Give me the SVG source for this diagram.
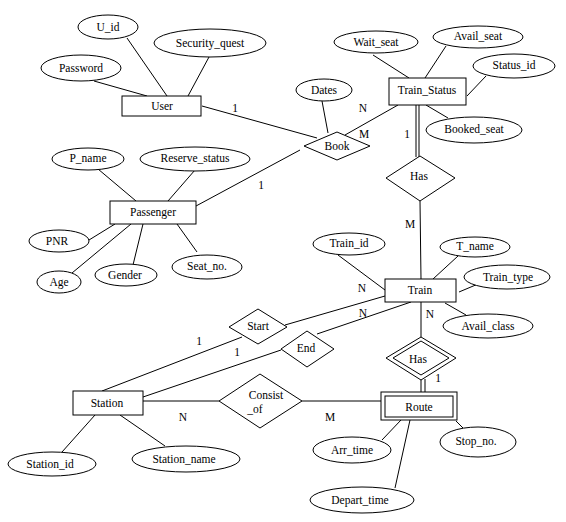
<svg xmlns="http://www.w3.org/2000/svg" width="566" height="522" viewBox="0 0 566 522">
<style>
text{font-family:"Liberation Serif","Times New Roman",serif;font-size:11.5px;fill:#000;text-anchor:middle;dominant-baseline:central}
.s{fill:#fff;stroke:#000;stroke-width:1}
.c line,.c polyline{stroke:#000;stroke-width:1;fill:none}
.lb{text-anchor:middle}
</style>
<rect width="566" height="522" fill="#fff"/>
<g class="c" id="connectors">
<line x1="94" y1="81" x2="147" y2="96"/>
<line x1="127" y1="38" x2="167" y2="96"/>
<line x1="209" y1="57" x2="188" y2="96"/>
<line x1="202" y1="106" x2="317" y2="138"/>
<line x1="322" y1="101" x2="328" y2="133"/>
<line x1="345" y1="135" x2="398" y2="105"/>
<line x1="300" y1="150" x2="196" y2="206"/>
<line x1="373" y1="55" x2="409" y2="78"/>
<line x1="446" y1="46" x2="425" y2="78"/>
<line x1="486" y1="76" x2="467" y2="96"/>
<line x1="426" y1="105" x2="448" y2="118"/>
<line x1="416" y1="105" x2="416" y2="157"/>
<line x1="419" y1="105" x2="419" y2="157"/>
<line x1="420" y1="201" x2="421" y2="279"/>
<line x1="338" y1="255" x2="385" y2="290"/>
<line x1="458" y1="256" x2="433" y2="279"/>
<line x1="478" y1="284" x2="459" y2="292"/>
<line x1="445" y1="303" x2="466" y2="315"/>
<line x1="285" y1="325" x2="385" y2="296"/>
<line x1="242" y1="337" x2="102" y2="391"/>
<line x1="317" y1="334" x2="411" y2="302"/>
<line x1="281" y1="350" x2="143" y2="397"/>
<line x1="143" y1="401" x2="219" y2="401"/>
<line x1="302" y1="401" x2="381" y2="401"/>
<line x1="421" y1="302" x2="421" y2="337"/>
<line x1="421" y1="380" x2="421" y2="392"/>
<line x1="425" y1="379" x2="425" y2="392"/>
<line x1="382" y1="440" x2="401" y2="420"/>
<line x1="463" y1="428" x2="456" y2="421"/>
<line x1="395" y1="488" x2="410" y2="420"/>
<line x1="62" y1="452" x2="95" y2="415"/>
<line x1="165" y1="446" x2="120" y2="415"/>
<line x1="98" y1="169" x2="136" y2="201"/>
<line x1="195" y1="170" x2="168" y2="201"/>
<line x1="89" y1="240" x2="115" y2="224"/>
<line x1="72" y1="273" x2="131" y2="224"/>
<line x1="133" y1="265" x2="143" y2="224"/>
<line x1="197" y1="252" x2="177" y2="224"/>
</g>
<g id="labels">
<text x="235" y="108">1</text>
<text x="363" y="108">N</text>
<text x="364" y="134">M</text>
<text x="261" y="185">1</text>
<text x="407" y="134">1</text>
<text x="410" y="224">M</text>
<text x="362" y="288">N</text>
<text x="363" y="313">N</text>
<text x="430" y="314">N</text>
<text x="199" y="341">1</text>
<text x="237" y="352">1</text>
<text x="183" y="417">N</text>
<text x="330" y="417">M</text>
<text x="438" y="378">1</text>
</g>
<g id="User"><rect class="s" x="122" y="96" width="79" height="20"/><text x="162" y="106">User</text></g>
<g id="U_id"><ellipse class="s" cx="108" cy="27" rx="30" ry="12"/><text x="108" y="27">U_id</text></g>
<g id="Security_quest"><ellipse class="s" cx="210" cy="43" rx="56" ry="14"/><text x="210" y="43">Security_quest</text></g>
<g id="Password"><ellipse class="s" cx="81" cy="68" rx="40" ry="13"/><text x="81" y="68">Password</text></g>
<g id="Book"><polygon class="s" points="304,146 337,132 370,146 337,160"/><text x="337" y="146">Book</text></g>
<g id="Dates"><ellipse class="s" cx="324" cy="90" rx="28" ry="11"/><text x="324" y="90">Dates</text></g>
<g id="Train_Status"><rect class="s" x="389" y="78" width="77" height="27"/><text x="427" y="90">Train_Status</text></g>
<g id="Wait_seat"><ellipse class="s" cx="376" cy="42" rx="42" ry="11"/><text x="376" y="42">Wait_seat</text></g>
<g id="Avail_seat"><ellipse class="s" cx="478" cy="37" rx="45" ry="11"/><text x="478" y="36">Avail_seat</text></g>
<g id="Status_id"><ellipse class="s" cx="514" cy="66" rx="41" ry="12"/><text x="514" y="65">Status_id</text></g>
<g id="Booked_seat"><ellipse class="s" cx="474" cy="130" rx="48" ry="13"/><text x="474" y="129">Booked_seat</text></g>
<g id="Has1"><polygon class="s" points="386,178 420,156 455,178 420,201"/><text x="419" y="176">Has</text></g>
<g id="Passenger"><rect class="s" x="110" y="201" width="86" height="23"/><text x="153" y="212">Passenger</text></g>
<g id="P_name"><ellipse class="s" cx="88" cy="159" rx="36" ry="11"/><text x="88" y="158">P_name</text></g>
<g id="Reserve_status"><ellipse class="s" cx="195" cy="159" rx="55" ry="12"/><text x="195" y="158">Reserve_status</text></g>
<g id="PNR"><ellipse class="s" cx="59" cy="241" rx="30" ry="11"/><text x="57" y="241">PNR</text></g>
<g id="Age"><ellipse class="s" cx="59" cy="282" rx="22" ry="11"/><text x="59" y="282">Age</text></g>
<g id="Gender"><ellipse class="s" cx="126" cy="275" rx="31" ry="11"/><text x="125" y="275">Gender</text></g>
<g id="Seat_no"><ellipse class="s" cx="207" cy="267" rx="35" ry="12"/><text x="207" y="266">Seat_no.</text></g>
<g id="Train"><rect class="s" x="385" y="279" width="71" height="23"/><text x="420" y="290">Train</text></g>
<g id="Train_id"><ellipse class="s" cx="349" cy="244" rx="36" ry="11"/><text x="349" y="243">Train_id</text></g>
<g id="T_name"><ellipse class="s" cx="475" cy="247" rx="35" ry="10"/><text x="475" y="246">T_name</text></g>
<g id="Train_type"><ellipse class="s" cx="507" cy="277" rx="43" ry="12"/><text x="508" y="277">Train_type</text></g>
<g id="Avail_class"><ellipse class="s" cx="488" cy="326" rx="45" ry="12"/><text x="488" y="326">Avail_class</text></g>
<g id="Start"><polygon class="s" points="229,327 258,309 287,327 258,344"/><text x="258" y="326">Start</text></g>
<g id="End"><polygon class="s" points="281,349 307,331 334,349 307,367"/><text x="306" y="348">End</text></g>
<g id="Has2"><polygon class="s" points="386,358 421,337 456,358 421,380"/><polygon class="s" points="393,358 421,341 449,358 421,375"/><text x="418" y="359">Has</text></g>
<g id="Station"><rect class="s" x="73" y="391" width="70" height="24"/><text x="107" y="403">Station</text></g>
<g id="Station_id"><ellipse class="s" cx="52" cy="464" rx="44" ry="12"/><text x="50" y="464">Station_id</text></g>
<g id="Station_name"><ellipse class="s" cx="186" cy="459" rx="54" ry="13"/><text x="184" y="459">Station_name</text></g>
<g id="Consist_of"><polygon class="s" points="219,401 260,374 302,401 260,428"/><text x="266" y="395">Consist</text><text x="255" y="409">_of</text></g>
<g id="Route"><rect class="s" x="381" y="392" width="76" height="28"/><rect class="s" x="385" y="396" width="68" height="21"/><text x="419" y="407">Route</text></g>
<g id="Arr_time"><ellipse class="s" cx="352" cy="450" rx="39" ry="13"/><text x="352" y="450">Arr_time</text></g>
<g id="Stop_no"><ellipse class="s" cx="478" cy="442" rx="38" ry="15"/><text x="476" y="441">Stop_no.</text></g>
<g id="Depart_time"><ellipse class="s" cx="362" cy="500" rx="52" ry="13"/><text x="360" y="500">Depart_time</text></g>
</svg>
